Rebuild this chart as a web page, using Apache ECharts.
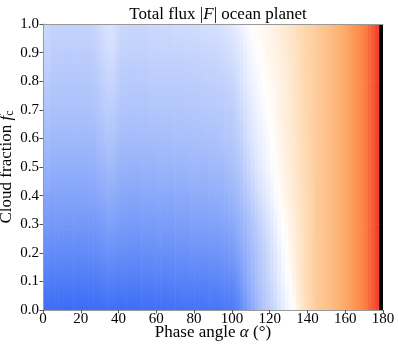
<!DOCTYPE html>
<html>
<head>
<meta charset="utf-8">
<script src="https://cdn.jsdelivr.net/npm/echarts@6/dist/echarts.min.js"></script>
<style>
  html, body { margin: 0; padding: 0; background: #fff; }
  #chart { width: 399px; height: 348px; }
</style>
</head>
<body>
<div id="chart"></div>
<script>
// phase angle column centres (deg), 2 deg wide
const phaseAngles = [1, 3, 5, 7, 9, 11, 13, 15, 17, 19, 21, 23, 25, 27, 29, 31, 33, 35, 37, 39,
  41, 43, 45, 47, 49, 51, 53, 55, 57, 59, 61, 63, 65, 67, 69, 71, 73, 75, 77, 79,
  81, 83, 85, 87, 89, 91, 93, 95, 97, 99, 101, 103, 105, 107, 109, 111, 113, 115, 117, 119,
  121, 123, 125, 127, 129, 131, 133, 135, 137, 139, 141, 143, 145, 147, 149, 151, 153, 155, 157, 159,
  161, 163, 165, 167, 169, 171, 173, 175, 177, 179];
// cloud fraction nodes
const cloudFractions = [0.0, 0.1, 0.2, 0.3, 0.4, 0.5, 0.6, 0.7, 0.8, 0.9, 1.0];

// colour level (0 = deep blue, 0.5 = white, 1 = red, 1.125 = black)
// alpha 145..179, same for every cloud fraction
const tail = [0.67, 0.68, 0.69, 0.70, 0.715, 0.73, 0.745, 0.76, 0.78, 0.80, 0.82, 0.84, 0.865, 0.89, 0.92, 0.95, 0.99, 1.125];

// alpha 1..143, one array per cloud fraction
const fc00 = [0.01, 0.01, 0, 0, 0, 0, 0, 0, 0, 0,
  0, 0, 0, 0, 0, 0.005, 0.01, 0.015, 0.015, 0.01,
  0.005, 0.005, 0.01, 0.01, 0.01, 0.01, 0.015, 0.015, 0.015, 0.02,
  0.02, 0.02, 0.02, 0.025, 0.025, 0.025, 0.03, 0.03, 0.03, 0.03,
  0.035, 0.035, 0.035, 0.04, 0.04, 0.04, 0.045, 0.05, 0.055, 0.06,
  0.07, 0.10, 0.14, 0.18, 0.22, 0.26, 0.29, 0.32, 0.35, 0.37,
  0.39, 0.41, 0.43, 0.45, 0.47, 0.49, 0.51, 0.545, 0.575, 0.60, 0.625, 0.645];
const fc01 = [0.08, 0.08, 0.07, 0.07, 0.07, 0.07, 0.07, 0.07, 0.07, 0.07,
  0.07, 0.07, 0.07, 0.07, 0.075, 0.08, 0.085, 0.09, 0.09, 0.085,
  0.08, 0.08, 0.08, 0.08, 0.08, 0.08, 0.085, 0.085, 0.085, 0.09,
  0.09, 0.09, 0.09, 0.095, 0.095, 0.095, 0.10, 0.10, 0.10, 0.10,
  0.10, 0.10, 0.10, 0.105, 0.11, 0.11, 0.115, 0.12, 0.125, 0.13,
  0.14, 0.165, 0.20, 0.235, 0.27, 0.295, 0.325, 0.35, 0.37, 0.39,
  0.41, 0.43, 0.45, 0.47, 0.49, 0.51, 0.54, 0.565, 0.59, 0.61, 0.63, 0.65];
const fc02 = [0.145, 0.145, 0.135, 0.135, 0.135, 0.135, 0.135, 0.135, 0.135, 0.135,
  0.135, 0.135, 0.135, 0.14, 0.145, 0.15, 0.155, 0.16, 0.16, 0.155,
  0.15, 0.145, 0.145, 0.145, 0.145, 0.145, 0.15, 0.15, 0.15, 0.15,
  0.155, 0.155, 0.155, 0.155, 0.155, 0.16, 0.16, 0.16, 0.16, 0.165,
  0.165, 0.165, 0.165, 0.17, 0.17, 0.175, 0.175, 0.18, 0.185, 0.195,
  0.205, 0.225, 0.25, 0.275, 0.30, 0.32, 0.345, 0.365, 0.385, 0.405,
  0.425, 0.445, 0.465, 0.485, 0.505, 0.525, 0.55, 0.57, 0.59, 0.61, 0.63, 0.65];
const fc03 = [0.195, 0.195, 0.185, 0.185, 0.185, 0.185, 0.185, 0.185, 0.185, 0.185,
  0.185, 0.185, 0.185, 0.19, 0.195, 0.20, 0.21, 0.215, 0.215, 0.21,
  0.20, 0.195, 0.195, 0.195, 0.195, 0.195, 0.20, 0.20, 0.20, 0.20,
  0.205, 0.205, 0.205, 0.205, 0.205, 0.21, 0.21, 0.21, 0.21, 0.215,
  0.215, 0.215, 0.215, 0.22, 0.22, 0.225, 0.225, 0.23, 0.235, 0.245,
  0.255, 0.27, 0.29, 0.31, 0.33, 0.35, 0.37, 0.39, 0.41, 0.425,
  0.445, 0.465, 0.485, 0.50, 0.52, 0.54, 0.555, 0.575, 0.595, 0.61, 0.63, 0.645];
const fc04 = [0.24, 0.24, 0.23, 0.23, 0.23, 0.23, 0.23, 0.23, 0.23, 0.23,
  0.23, 0.23, 0.23, 0.235, 0.245, 0.255, 0.26, 0.265, 0.265, 0.255,
  0.245, 0.24, 0.24, 0.24, 0.24, 0.24, 0.245, 0.245, 0.245, 0.245,
  0.25, 0.25, 0.25, 0.25, 0.25, 0.255, 0.255, 0.255, 0.255, 0.26,
  0.26, 0.26, 0.26, 0.265, 0.265, 0.27, 0.27, 0.275, 0.28, 0.29,
  0.30, 0.31, 0.33, 0.35, 0.37, 0.39, 0.41, 0.425, 0.44, 0.455,
  0.47, 0.49, 0.51, 0.525, 0.54, 0.555, 0.57, 0.585, 0.60, 0.615, 0.63, 0.645];
const fc05 = [0.28, 0.28, 0.27, 0.27, 0.27, 0.27, 0.27, 0.27, 0.27, 0.27,
  0.27, 0.27, 0.27, 0.275, 0.285, 0.295, 0.30, 0.305, 0.305, 0.295,
  0.285, 0.28, 0.28, 0.28, 0.28, 0.28, 0.285, 0.285, 0.285, 0.285,
  0.29, 0.29, 0.29, 0.29, 0.29, 0.29, 0.295, 0.295, 0.295, 0.30,
  0.30, 0.30, 0.30, 0.30, 0.305, 0.305, 0.31, 0.31, 0.32, 0.325,
  0.335, 0.345, 0.365, 0.385, 0.405, 0.42, 0.44, 0.45, 0.465, 0.475,
  0.49, 0.505, 0.52, 0.535, 0.55, 0.56, 0.575, 0.59, 0.605, 0.62, 0.635, 0.65];
const fc06 = [0.315, 0.315, 0.305, 0.305, 0.305, 0.305, 0.305, 0.305, 0.305, 0.305,
  0.305, 0.305, 0.305, 0.31, 0.32, 0.33, 0.34, 0.345, 0.345, 0.335,
  0.32, 0.315, 0.315, 0.315, 0.315, 0.315, 0.315, 0.315, 0.32, 0.32,
  0.32, 0.32, 0.32, 0.32, 0.325, 0.325, 0.325, 0.325, 0.325, 0.33,
  0.33, 0.33, 0.33, 0.335, 0.335, 0.335, 0.34, 0.345, 0.35, 0.355,
  0.36, 0.375, 0.39, 0.41, 0.425, 0.44, 0.455, 0.465, 0.475, 0.485,
  0.50, 0.515, 0.53, 0.54, 0.555, 0.565, 0.58, 0.595, 0.61, 0.62, 0.64, 0.65];
const fc07 = [0.345, 0.345, 0.335, 0.335, 0.335, 0.335, 0.335, 0.335, 0.335, 0.335,
  0.335, 0.335, 0.335, 0.34, 0.35, 0.36, 0.37, 0.375, 0.375, 0.365,
  0.35, 0.345, 0.345, 0.345, 0.345, 0.345, 0.345, 0.345, 0.35, 0.35,
  0.35, 0.35, 0.35, 0.35, 0.35, 0.35, 0.35, 0.355, 0.355, 0.355,
  0.355, 0.355, 0.36, 0.36, 0.36, 0.36, 0.365, 0.365, 0.37, 0.375,
  0.38, 0.395, 0.41, 0.425, 0.44, 0.455, 0.47, 0.48, 0.49, 0.50,
  0.51, 0.525, 0.54, 0.55, 0.56, 0.57, 0.585, 0.60, 0.61, 0.625, 0.64, 0.655];
const fc08 = [0.37, 0.37, 0.355, 0.355, 0.355, 0.355, 0.355, 0.355, 0.355, 0.355,
  0.355, 0.355, 0.355, 0.36, 0.37, 0.38, 0.39, 0.395, 0.395, 0.385,
  0.37, 0.365, 0.365, 0.365, 0.365, 0.365, 0.365, 0.365, 0.37, 0.37,
  0.37, 0.37, 0.37, 0.37, 0.37, 0.37, 0.37, 0.375, 0.375, 0.375,
  0.375, 0.375, 0.38, 0.38, 0.38, 0.38, 0.385, 0.385, 0.39, 0.395,
  0.40, 0.415, 0.43, 0.445, 0.46, 0.47, 0.48, 0.49, 0.50, 0.51,
  0.52, 0.53, 0.54, 0.55, 0.56, 0.575, 0.59, 0.60, 0.615, 0.63, 0.64, 0.655];
const fc09 = [0.39, 0.39, 0.375, 0.375, 0.375, 0.375, 0.375, 0.375, 0.375, 0.375,
  0.375, 0.375, 0.375, 0.38, 0.39, 0.40, 0.41, 0.415, 0.415, 0.405,
  0.39, 0.385, 0.385, 0.385, 0.385, 0.385, 0.385, 0.385, 0.39, 0.39,
  0.39, 0.39, 0.39, 0.39, 0.39, 0.39, 0.39, 0.395, 0.395, 0.395,
  0.395, 0.395, 0.40, 0.40, 0.40, 0.40, 0.405, 0.41, 0.41, 0.42,
  0.425, 0.435, 0.445, 0.46, 0.475, 0.485, 0.495, 0.505, 0.515, 0.525,
  0.53, 0.54, 0.55, 0.56, 0.57, 0.58, 0.59, 0.605, 0.62, 0.63, 0.645, 0.655];
const fc10 = [0.41, 0.40, 0.39, 0.39, 0.39, 0.39, 0.39, 0.39, 0.39, 0.39,
  0.39, 0.39, 0.39, 0.395, 0.405, 0.415, 0.425, 0.43, 0.43, 0.42,
  0.405, 0.40, 0.40, 0.40, 0.40, 0.40, 0.40, 0.40, 0.405, 0.405,
  0.405, 0.405, 0.405, 0.405, 0.41, 0.41, 0.41, 0.41, 0.41, 0.41,
  0.415, 0.415, 0.42, 0.42, 0.42, 0.425, 0.425, 0.43, 0.435, 0.44,
  0.45, 0.46, 0.47, 0.48, 0.49, 0.50, 0.51, 0.52, 0.525, 0.535,
  0.54, 0.55, 0.56, 0.57, 0.58, 0.59, 0.60, 0.61, 0.62, 0.635, 0.645, 0.655];

const rows = [fc00, fc01, fc02, fc03, fc04, fc05, fc06, fc07, fc08, fc09, fc10];

const xTickStep = 20;
const yTickStep = 0.1;
const halfColumn = 1;
const levelMax = 1.125;
const colorStops = ['#3a6cf6', '#5f88f8', '#8aa9fa', '#bccdfc', '#ffffff',
  '#fed9b0', '#fdb070', '#fc8240', '#f23c2c', '#000000'];

// one cell between two cloud-fraction nodes: [alpha0, alpha1, fcLow, fcHigh, levelLow, levelHigh]
const cells = [];
for (let j = 0; j < rows.length - 1; j++) {
  const low = rows[j].concat(tail);
  const high = rows[j + 1].concat(tail);
  phaseAngles.forEach((a, i) => {
    cells.push([a - halfColumn, a + halfColumn, cloudFractions[j], cloudFractions[j + 1], low[i], high[i]]);
  });
}

const levelColor = (v) => echarts.color.lerp(Math.min(v / levelMax, 1), colorStops);

const serif = 'Liberation Serif, Times New Roman, serif';
const chart = echarts.init(document.getElementById('chart'));

chart.setOption({
  animation: false,
  backgroundColor: '#fff',
  textStyle: { fontFamily: serif },
  title: {
    text: 'Total flux |{i|F}| ocean planet',
    left: 213,
    top: 1,
    textAlign: 'center',
    textStyle: {
      fontFamily: serif,
      fontWeight: 'normal',
      fontSize: 17,
      color: '#000',
      rich: {
        i: { fontFamily: serif, fontStyle: 'italic', fontSize: 17, color: '#000' }
      }
    }
  },
  grid: { left: 43, right: 16, top: 24, bottom: 38, containLabel: false, outerBoundsMode: 'none' },
  xAxis: [
    {
      type: 'value',
      min: 0,
      max: 180,
      interval: xTickStep,
      position: 'bottom',
      z: 5,
      name: 'Phase angle {i|α} (°)',
      nameLocation: 'middle',
      nameGap: 14,
      nameMoveOverlap: false,
      nameTextStyle: {
        fontFamily: serif, fontSize: 17, color: '#000',
        rich: { i: { fontFamily: serif, fontStyle: 'italic', fontSize: 17, color: '#000' } }
      },
      axisLine: { show: true, lineStyle: { color: '#999', width: 1 } },
      axisTick: { show: true, length: 3.5, lineStyle: { color: '#555' } },
      axisLabel: { fontFamily: serif, fontSize: 15, color: '#000', margin: 2 },
      splitLine: { show: false }
    },
    {
      type: 'value',
      min: 0,
      max: 180,
      position: 'top',
      z: 5,
      axisLine: { show: true, lineStyle: { color: '#999', width: 1 } },
      axisTick: { show: false },
      axisLabel: { show: false },
      splitLine: { show: false }
    }
  ],
  yAxis: [
    {
      type: 'value',
      min: 0,
      max: 1,
      interval: yTickStep,
      position: 'left',
      z: 5,
      name: 'Cloud fraction {i|f}{s|c}',
      nameLocation: 'middle',
      nameGap: 27,
      nameMoveOverlap: false,
      nameRotate: 90,
      nameTextStyle: {
        fontFamily: serif, fontSize: 17, color: '#000',
        rich: {
          i: { fontFamily: serif, fontStyle: 'italic', fontSize: 17, color: '#000' },
          s: { fontFamily: serif, fontSize: 12, color: '#000', verticalAlign: 'bottom', padding: [7, 0, 0, 0] }
        }
      },
      axisLine: { show: true, lineStyle: { color: '#999', width: 1 } },
      axisTick: { show: true, length: 3.5, lineStyle: { color: '#555' } },
      axisLabel: {
        fontFamily: serif, fontSize: 15, color: '#000', margin: 4,
        formatter: (v) => v.toFixed(1)
      },
      splitLine: { show: false }
    }
  ],
  series: [
    {
      type: 'custom',
      xAxisIndex: 0,
      yAxisIndex: 0,
      clip: true,
      z: 1,
      encode: { x: [0, 1], y: [2, 3] },
      data: cells,
      renderItem: (params, api) => {
        const tl = api.coord([api.value(0), api.value(3)]);
        const br = api.coord([api.value(1), api.value(2)]);
        return {
          type: 'rect',
          shape: { x: tl[0], y: tl[1], width: br[0] - tl[0] + 0.6, height: br[1] - tl[1] + 0.6 },
          style: {
            fill: new echarts.graphic.LinearGradient(0, 0, 0, 1, [
              { offset: 0, color: levelColor(api.value(5)) },
              { offset: 1, color: levelColor(api.value(4)) }
            ])
          }
        };
      }
    }
  ]
});
</script>
</body>
</html>
